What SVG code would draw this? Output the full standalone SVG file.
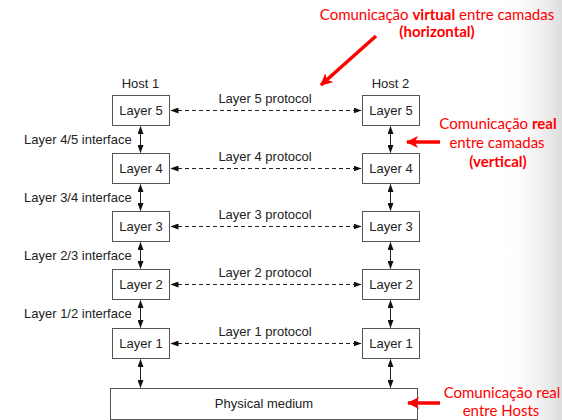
<svg xmlns="http://www.w3.org/2000/svg" width="562" height="420" viewBox="0 0 562 420">
<defs>
<linearGradient id="bg" x1="0" y1="0" x2="1" y2="0">
<stop offset="0" stop-color="#ffffff" stop-opacity="0"/>
<stop offset="1" stop-color="#dcdcdc" stop-opacity="1"/>
</linearGradient>
<marker id="ah" viewBox="0 0 8 6" refX="7.5" refY="3" markerWidth="8" markerHeight="6" markerUnits="userSpaceOnUse" orient="auto-start-reverse">
<path d="M0,0 L8,3 L0,6 Z" fill="#111"/>
</marker>
<marker id="rh" viewBox="0 0 12 12" refX="11" refY="6" markerWidth="12" markerHeight="12" markerUnits="userSpaceOnUse" orient="auto">
<path d="M0,0 L12,6 L0,12 L3,6 Z" fill="#f00"/>
</marker>
<style>
.box{fill:#fff;stroke:#555;stroke-width:1}
.t{font-family:"Liberation Sans",Arial,sans-serif;font-size:13px;fill:#222}
.m{text-anchor:middle}
.v{stroke:#222;stroke-width:1;fill:none;marker-start:url(#ah);marker-end:url(#ah)}
.d{stroke:#222;stroke-width:1;fill:none;stroke-dasharray:4 3;marker-start:url(#ah);marker-end:url(#ah)}
.r{font-family:Lato,"Open Sans",sans-serif;font-size:15px;fill:#f00}
.b{font-weight:bold}
.ra{stroke:#f00;stroke-width:3.5;fill:none;marker-end:url(#rh)}
</style>
</defs>
<rect x="500" y="0" width="62" height="420" fill="url(#bg)"/>

<g id="host1-label"><text class="t m" x="140.5" y="87.5">Host 1</text></g>
<g id="host2-label"><text class="t m" x="390.5" y="87.5">Host 2</text></g>

<g id="h1-layer5"><rect class="box" x="112.5" y="95.5" width="57" height="30"/><text class="t m" x="141" y="115">Layer 5</text></g>
<g id="h1-layer4"><rect class="box" x="112.5" y="153.5" width="57" height="30"/><text class="t m" x="141" y="173">Layer 4</text></g>
<g id="h1-layer3"><rect class="box" x="112.5" y="211.5" width="57" height="30"/><text class="t m" x="141" y="231">Layer 3</text></g>
<g id="h1-layer2"><rect class="box" x="112.5" y="269.5" width="57" height="30"/><text class="t m" x="141" y="289">Layer 2</text></g>
<g id="h1-layer1"><rect class="box" x="112.5" y="328.5" width="57" height="30"/><text class="t m" x="141" y="348">Layer 1</text></g>

<g id="h2-layer5"><rect class="box" x="362.5" y="95.5" width="57" height="30"/><text class="t m" x="391" y="115">Layer 5</text></g>
<g id="h2-layer4"><rect class="box" x="362.5" y="153.5" width="57" height="30"/><text class="t m" x="391" y="173">Layer 4</text></g>
<g id="h2-layer3"><rect class="box" x="362.5" y="211.5" width="57" height="30"/><text class="t m" x="391" y="231">Layer 3</text></g>
<g id="h2-layer2"><rect class="box" x="362.5" y="269.5" width="57" height="30"/><text class="t m" x="391" y="289">Layer 2</text></g>
<g id="h2-layer1"><rect class="box" x="362.5" y="328.5" width="57" height="30"/><text class="t m" x="391" y="348">Layer 1</text></g>

<g id="physical"><rect class="box" x="110.5" y="388.5" width="307" height="31"/><text class="t m" x="264" y="408">Physical medium</text></g>

<g id="interfaces">
<text class="t" x="24" y="144">Layer 4/5 interface</text>
<text class="t" x="24" y="202">Layer 3/4 interface</text>
<text class="t" x="24" y="260">Layer 2/3 interface</text>
<text class="t" x="24" y="318">Layer 1/2 interface</text>
</g>

<g id="protocols">
<text class="t m" x="265" y="102.5">Layer 5 protocol</text>
<text class="t m" x="265" y="160.5">Layer 4 protocol</text>
<text class="t m" x="265" y="218.5">Layer 3 protocol</text>
<text class="t m" x="265" y="276.5">Layer 2 protocol</text>
<text class="t m" x="265" y="335.5">Layer 1 protocol</text>
</g>

<g id="connectors">
<line class="v" x1="140.5" y1="126.5" x2="140.5" y2="152.5"/>
<line class="v" x1="140.5" y1="184.5" x2="140.5" y2="210.5"/>
<line class="v" x1="140.5" y1="242.5" x2="140.5" y2="268.5"/>
<line class="v" x1="140.5" y1="300.5" x2="140.5" y2="327.5"/>
<line class="v" x1="140.5" y1="359.5" x2="140.5" y2="387.5"/>
<line class="v" x1="390.5" y1="126.5" x2="390.5" y2="152.5"/>
<line class="v" x1="390.5" y1="184.5" x2="390.5" y2="210.5"/>
<line class="v" x1="390.5" y1="242.5" x2="390.5" y2="268.5"/>
<line class="v" x1="390.5" y1="300.5" x2="390.5" y2="327.5"/>
<line class="v" x1="390.5" y1="359.5" x2="390.5" y2="387.5"/>
<line class="d" x1="171" y1="110.5" x2="361" y2="110.5"/>
<line class="d" x1="171" y1="168.5" x2="361" y2="168.5"/>
<line class="d" x1="171" y1="226.5" x2="361" y2="226.5"/>
<line class="d" x1="171" y1="284.5" x2="361" y2="284.5"/>
<line class="d" x1="171" y1="343.5" x2="361" y2="343.5"/>
</g>

<g id="note-virtual">
<text class="r m" x="437" y="20">Comunicação <tspan class="b">virtual</tspan> entre camadas</text>
<text class="r m b" x="437" y="37">(horizontal)</text>
<line class="ra" x1="376" y1="36" x2="321" y2="85"/>
</g>
<g id="note-real-vertical">
<text class="r m" x="498" y="129">Comunicação <tspan class="b">real</tspan></text>
<text class="r m" x="497" y="148">entre camadas</text>
<text class="r m b" x="498" y="167">(vertical)</text>
<line class="ra" x1="440" y1="142" x2="407" y2="142"/>
</g>
<g id="note-real-hosts">
<text class="r m" x="502" y="398">Comunicação real</text>
<text class="r m" x="501" y="416">entre Hosts</text>
<line class="ra" x1="440" y1="403" x2="408" y2="403"/>
</g>
</svg>
